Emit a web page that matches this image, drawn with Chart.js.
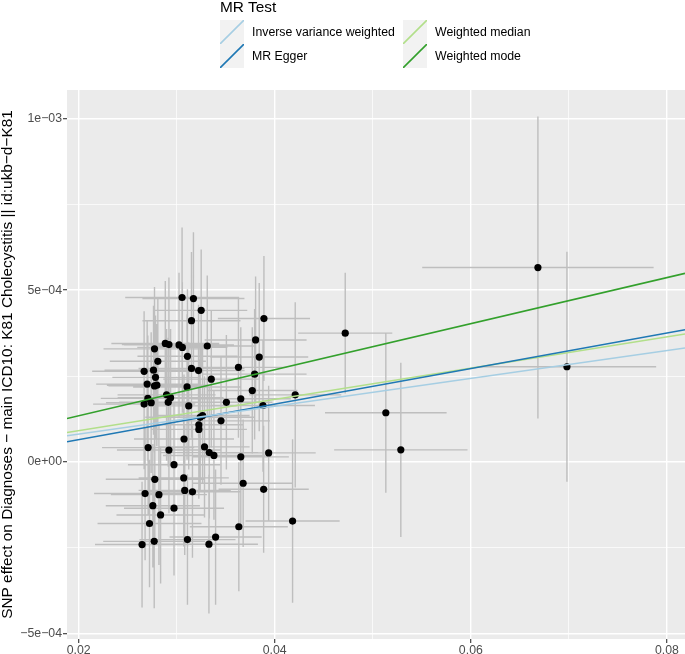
<!DOCTYPE html>
<html>
<head>
<meta charset="utf-8">
<script src="https://cdn.jsdelivr.net/npm/chart.js@4.4.1/dist/chart.umd.min.js"></script>
<style>
  body { margin: 0; background: #fff; font-family: "Liberation Sans", Arial, sans-serif; }
  #wrap { position: relative; width: 685px; height: 654px; }
  #legend { position: absolute; left: 0; top: 0; width: 685px; height: 80px; }
  .ttl { position: absolute; left: 220px; top: -1px; font-size: 15.4px; line-height: 15.4px; color: #000; }
  .item { position: absolute; height: 24px; display: flex; align-items: center; font-size: 12.3px; color: #000; white-space: nowrap; }
  .item svg { margin-right: 8px; display: block; }
</style>
</head>
<body>
<div id="wrap">
  <canvas id="mrChart" width="685" height="654"></canvas>
  <div id="legend"></div>
</div>
<script>
// SNP effects on exposure (x) and outcome (y), with standard errors
const bx = [0.03055, 0.03171, 0.03250, 0.03151, 0.03890, 0.04719, 0.03805, 0.03842, 0.02774, 0.02884,
    0.02921, 0.03024, 0.03058, 0.03312, 0.02808, 0.03110, 0.02668, 0.02764, 0.03151, 0.03223,
    0.03630, 0.02784, 0.02699, 0.02774, 0.02798, 0.03353, 0.03106, 0.03795, 0.03771, 0.04209,
    0.02897, 0.02938, 0.02706, 0.02668, 0.02740, 0.02914, 0.03507, 0.03654, 0.03123, 0.03880,
    0.03264, 0.03240, 0.03452, 0.03226, 0.03226, 0.03075, 0.02709, 0.02921, 0.03284, 0.03332,
    0.03380, 0.03654, 0.03938, 0.02973, 0.02777, 0.03072, 0.03678, 0.02678, 0.02819, 0.03082,
    0.03161, 0.03887, 0.02757, 0.02973, 0.02836, 0.02723, 0.03634, 0.04182, 0.02647, 0.02771,
    0.03110, 0.03329, 0.03397, 0.05133, 0.05286, 0.06684, 0.06980];
const by = [4.787e-4, 4.756e-4, 4.413e-4, 4.112e-4, 4.174e-4, 3.749e-4, 3.551e-4, 3.053e-4, 3.292e-4, 3.448e-4,
    3.416e-4, 3.406e-4, 3.333e-4, 3.375e-4, 2.928e-4, 3.074e-4, 2.638e-4, 2.669e-4, 2.721e-4, 2.658e-4,
    2.752e-4, 2.461e-4, 2.264e-4, 2.212e-4, 2.233e-4, 2.409e-4, 2.181e-4, 2.554e-4, 2.077e-4, 1.952e-4,
    1.952e-4, 1.869e-4, 1.848e-4, 1.682e-4, 1.724e-4, 1.734e-4, 1.734e-4, 1.838e-4, 1.630e-4, 1.641e-4,
    1.350e-4, 1.298e-4, 1.194e-4, 1.080e-4, 0.945e-4, 0.665e-4, 0.415e-4, 0.343e-4, 0.436e-4, 0.270e-4,
    0.187e-4, 0.145e-4, 0.260e-4, -0.083e-4, -0.509e-4, -0.467e-4, -0.623e-4, -0.924e-4, -0.955e-4, -0.831e-4,
    -0.872e-4, -0.800e-4, -1.277e-4, -1.350e-4, -1.547e-4, -1.796e-4, -1.890e-4, -1.724e-4, -2.409e-4, -2.316e-4,
    -2.264e-4, -2.399e-4, -2.191e-4, 1.43e-4, 0.35e-4, 5.66e-4, 2.77e-4];
const bxse = [0.0058, 0.0052, 0.0047, 0.0050, 0.0047, 0.0048, 0.0052, 0.0050, 0.0052, 0.0055,
    0.0048, 0.0056, 0.0046, 0.0050, 0.0049, 0.0051, 0.0053, 0.0050, 0.0054, 0.0047,
    0.0049, 0.0044, 0.0052, 0.0047, 0.0051, 0.0049, 0.0055, 0.0053, 0.0046, 0.0047,
    0.0050, 0.0054, 0.0048, 0.0052, 0.0046, 0.0050, 0.0047, 0.0051, 0.0049, 0.0053,
    0.0048, 0.0056, 0.0050, 0.0045, 0.0049, 0.0051, 0.0047, 0.0053, 0.0046, 0.0050,
    0.0052, 0.0049, 0.0048, 0.0047, 0.0050, 0.0046, 0.0051, 0.0052, 0.0049, 0.0047,
    0.0050, 0.0046, 0.0048, 0.0051, 0.0045, 0.0053, 0.0050, 0.0048, 0.0048, 0.0052,
    0.0049, 0.0050, 0.0047, 0.0062, 0.0068, 0.0118, 0.0091];
const byse = [2.04e-4, 1.93e-4, 1.77e-4, 2.00e-4, 1.82e-4, 1.76e-4, 1.85e-4, 2.16e-4, 1.80e-4, 1.82e-4,
    1.95e-4, 2.10e-4, 1.90e-4, 2.05e-4, 1.85e-4, 1.95e-4, 1.75e-4, 1.88e-4, 2.02e-4, 1.92e-4,
    2.05e-4, 1.80e-4, 1.86e-4, 1.94e-4, 1.78e-4, 2.00e-4, 2.12e-4, 1.90e-4, 1.84e-4, 2.70e-4,
    1.92e-4, 2.00e-4, 1.83e-4, 1.90e-4, 2.05e-4, 1.88e-4, 1.96e-4, 2.08e-4, 1.85e-4, 1.93e-4,
    1.98e-4, 2.15e-4, 1.86e-4, 1.90e-4, 2.02e-4, 1.88e-4, 1.95e-4, 1.84e-4, 2.06e-4, 1.92e-4,
    1.87e-4, 2.10e-4, 1.96e-4, 1.82e-4, 1.90e-4, 2.00e-4, 1.86e-4, 1.94e-4, 2.05e-4, 1.88e-4,
    1.92e-4, 1.85e-4, 1.80e-4, 1.96e-4, 2.00e-4, 1.86e-4, 1.88e-4, 2.38e-4, 1.83e-4, 1.95e-4,
    1.90e-4, 2.02e-4, 1.97e-4, 2.33e-4, 2.54e-4, 4.40e-4, 3.35e-4];

// MR method fits (y = a + b * x)
const methodNames = ["Inverse variance weighted", "MR Egger", "Weighted median", "Weighted mode"];
const methodSlopes = [0.00405, 0.00518, 0.00455, 0.00671];
const methodIntercepts = [0, -3.9e-5, 0, 0];
const methodColors = ["#a6cee3", "#1f78b4", "#b2df8a", "#33a02c"];

// axis ranges and ticks
const xRange = [0.018816, 0.08184];
const yRange = [-5.16e-4, 1.0831e-3];
const xMajorTicks = [0.02, 0.04, 0.06, 0.08];
const xTickLabels = ["0.02", "0.04", "0.06", "0.08"];
const xMinorTicks = [0.03, 0.05, 0.07];
const yMajorTicks = [-5e-4, 0, 5e-4, 1e-3];
const yTickLabels = ["\u22125e\u221204", "0e+00", "5e\u221204", "1e\u221203"];
const yMinorTicks = [-2.5e-4, 2.5e-4, 7.5e-4];
const yTitle = "SNP effect on Diagnoses \u2212 main ICD10: K81 Cholecystitis || id:ukb\u2212d\u2212K81";

const tickFont = { family: "'Liberation Sans', Arial, sans-serif", size: 12.3 };

function majorIndex(list, v) {
    return list.findIndex(m => Math.abs(m - v) < 1e-9);
}

function setTicks(major, minor) {
    return (scale) => { scale.ticks = major.concat(minor).sort((a, b) => a - b).map(v => ({ value: v })); };
}

function gridOpts(major) {
    return {
        color: "#ffffff",
        lineWidth: (c) => majorIndex(major, c.tick.value) >= 0 ? 1.4 : 0.7,
        tickColor: (c) => majorIndex(major, c.tick.value) >= 0 ? "#333333" : "rgba(0,0,0,0)",
        tickLength: 4,
        tickWidth: 1.1,
        drawTicks: true
    };
}

// keep the panel edge-to-edge: no extra room for edge labels
function noEdgePadding(s) {
    s.paddingLeft = 0; s.paddingRight = 0; s.paddingTop = 0; s.paddingBottom = 0;
}

const panelBg = {
    id: "panelBg",
    beforeDraw(chart) {
        const { ctx, chartArea: a } = chart;
        ctx.save();
        ctx.fillStyle = "#ebebeb";
        ctx.fillRect(a.left, a.top, a.width, a.height);
        ctx.restore();
    }
};

// grey error bars under the points
const errorBars = {
    id: "errorBars",
    beforeDatasetsDraw(chart) {
        const { ctx, chartArea: a, scales: { x, y } } = chart;
        ctx.save();
        ctx.beginPath();
        ctx.rect(a.left, a.top, a.width, a.height);
        ctx.clip();
        ctx.strokeStyle = "#bebebe";
        ctx.lineWidth = 1.4;
        ctx.beginPath();
        for (let i = 0; i < bx.length; i++) {
            const px = x.getPixelForValue(bx[i]), py = y.getPixelForValue(by[i]);
            ctx.moveTo(px, y.getPixelForValue(by[i] - byse[i]));
            ctx.lineTo(px, y.getPixelForValue(by[i] + byse[i]));
            ctx.moveTo(x.getPixelForValue(bx[i] - bxse[i]), py);
            ctx.lineTo(x.getPixelForValue(bx[i] + bxse[i]), py);
        }
        ctx.stroke();
        ctx.restore();
    }
};

const lineSets = methodNames.map((name, i) => ({
    type: "line",
    label: name,
    data: xRange.map(v => ({ x: v, y: methodIntercepts[i] + methodSlopes[i] * v })),
    borderColor: methodColors[i],
    borderWidth: 1.6,
    pointRadius: 0,
    fill: false
}));

const pointSet = {
    type: "scatter",
    label: "SNPs",
    data: bx.map((v, i) => ({ x: v, y: by[i] })),
    backgroundColor: "#000000",
    borderWidth: 0,
    pointRadius: 3.6
};

new Chart(document.getElementById("mrChart"), {
    type: "scatter",
    data: { datasets: lineSets.concat([pointSet]) },
    options: {
        responsive: false,
        devicePixelRatio: 1,
        animation: false,
        layout: { autoPadding: false, padding: { top: 90, right: 0, left: 0, bottom: 0 } },
        plugins: { legend: { display: false }, tooltip: { enabled: false } },
        scales: {
            x: {
                type: "linear",
                min: xRange[0],
                max: xRange[1],
                afterBuildTicks: setTicks(xMajorTicks, xMinorTicks),
                afterFit: (s) => { s.height = 15; noEdgePadding(s); },
                grid: gridOpts(xMajorTicks),
                border: { display: false },
                ticks: {
                    autoSkip: false, maxRotation: 0, padding: 0, color: "#4d4d4d", font: tickFont,
                    callback: (v) => { const k = majorIndex(xMajorTicks, v); return k >= 0 ? xTickLabels[k] : ""; }
                }
            },
            y: {
                type: "linear",
                min: yRange[0],
                max: yRange[1],
                afterBuildTicks: setTicks(yMajorTicks, yMinorTicks),
                afterFit: (s) => { s.width = 67; noEdgePadding(s); },
                grid: gridOpts(yMajorTicks),
                border: { display: false },
                title: {
                    display: true, text: yTitle, color: "#000000", padding: 0,
                    font: { family: "'Liberation Sans', Arial, sans-serif", size: 15.4, lineHeight: 1 }
                },
                ticks: {
                    autoSkip: false, padding: 1, color: "#4d4d4d", font: tickFont,
                    callback: (v) => { const k = majorIndex(yMajorTicks, v); return k >= 0 ? yTickLabels[k] : ""; }
                }
            }
        }
    },
    plugins: [panelBg, errorBars]
});

// ggplot-style legend: two columns, keys filled by column
function buildLegend() {
    const el = document.getElementById("legend");
    let html = '<div class="ttl">MR Test</div>';
    methodNames.forEach((name, i) => {
        const left = i < 2 ? 220 : 403, top = 20 + (i % 2) * 24;
        html += `<div class="item" style="left:${left}px;top:${top}px">
            <svg width="24" height="24"><rect width="24" height="24" fill="#f2f2f2"/>
            <line x1="0" y1="24" x2="24" y2="0" stroke="${methodColors[i]}" stroke-width="1.6"/></svg>${name}</div>`;
    });
    el.innerHTML = html;
}
buildLegend();
</script>
</body>
</html>
